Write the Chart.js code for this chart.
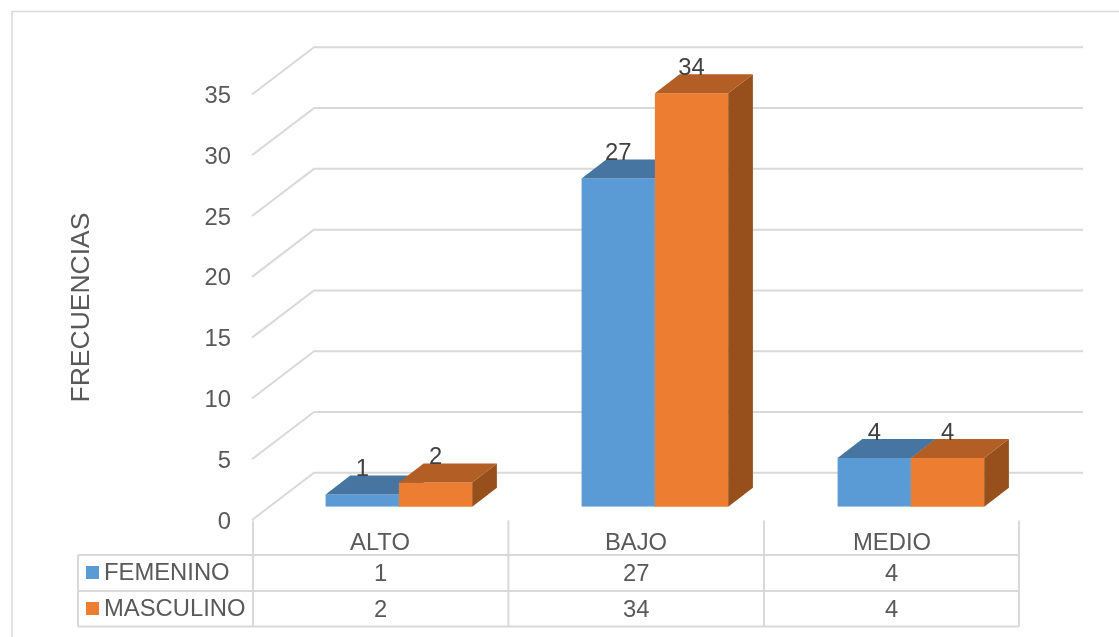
<!DOCTYPE html>
<html>
<head>
<meta charset="utf-8">
<title>Frecuencias</title>
<script src="https://cdn.jsdelivr.net/npm/chart.js@4"></script>
<style>
  html, body { margin: 0; padding: 0; background: #fff; }
  canvas { display: block; }
</style>
</head>
<body>
<canvas id="reportCanvas" width="1119" height="637"></canvas>
<script>
const categories = ['ALTO', 'BAJO', 'MEDIO'];
const femenino = [1, 27, 4];
const masculino = [2, 34, 4];
const seriesNames = ['FEMENINO', 'MASCULINO'];

const fontFamily = '"Liberation Sans", Arial, sans-serif';
const fontSize = 23.8;
const titleSize = 26.5;
const textColor = '#595959';
const labelColor = '#404040';
const lineColor = '#d9d9d9';
const shades = [
  { front: '#5b9bd5', top: '#4675a1', side: '#3b648a' },
  { front: '#ed7d31', top: '#b25e25', side: '#974f1c' }
];

// plot box the library lays the bars in
const plotLeft = 270.9;
const plotRight = 1038.9;
const plotTop = 81.2;
const plotBottom = 506.7;

// 3d offsets: wall plane relative to the bars, and the depth of a bar
const wallShiftX = 18.9;
const wallShiftY = 13.3;
const wallDepthX = 62;
const wallDepthY = 47.2;
const wallRight = 1083;
const barDepthX = 24.7;
const barDepthY = 19;

// data table under the chart
const tableRows = [555, 591, 626.5];
const tableLeft = 78;
const tableColumns = [253, 508.4, 764, 1019];

function face(ctx, points, color) {
  ctx.fillStyle = color;
  ctx.beginPath();
  points.forEach((p, i) => (i ? ctx.lineTo(p[0], p[1]) : ctx.moveTo(p[0], p[1])));
  ctx.closePath();
  ctx.fill();
}

function stroke(ctx, points, width) {
  ctx.strokeStyle = lineColor;
  ctx.lineWidth = width;
  ctx.lineJoin = 'round';
  ctx.beginPath();
  points.forEach((p, i) => (i ? ctx.lineTo(p[0], p[1]) : ctx.moveTo(p[0], p[1])));
  ctx.stroke();
}

const wallPlugin = {
  id: 'wall',
  beforeDatasetsDraw(chart) {
    const ctx = chart.ctx;
    const yScale = chart.scales.y;
    const frontX = plotLeft - wallShiftX;

    ctx.save();
    // outer frame, open on the right and at the bottom
    stroke(ctx, [[12, 637], [12, 11.5], [1119, 11.5]], 1.5);

    yScale.ticks.forEach((tick) => {
      const y = yScale.getPixelForValue(tick.value) + wallShiftY;
      stroke(ctx, [[frontX, y], [frontX + wallDepthX, y - wallDepthY], [wallRight, y - wallDepthY]], 2);
    });

    tableRows.forEach((y) => stroke(ctx, [[tableLeft, y], [tableColumns[3], y]], 2));
    stroke(ctx, [[tableLeft, tableRows[0]], [tableLeft, tableRows[2]]], 2);
    tableColumns.forEach((x) => stroke(ctx, [[x, 520.5], [x, tableRows[2]]], 2));

    // axis title
    ctx.fillStyle = textColor;
    ctx.font = titleSize + 'px ' + fontFamily;
    ctx.textAlign = 'center';
    ctx.textBaseline = 'middle';
    ctx.translate(81.5, 307.5);
    ctx.rotate(-Math.PI / 2);
    ctx.fillText('FRECUENCIAS', 0, 0);
    ctx.restore();
  }
};

function drawDepth(chart, index) {
  const ctx = chart.ctx;
  const shade = shades[index];

  chart.getDatasetMeta(index).data.forEach((bar) => {
    const left = bar.x - bar.width / 2;
    const right = bar.x + bar.width / 2;
    const top = bar.y;
    const base = bar.base;

    face(ctx, [[right, top], [right + barDepthX, top - barDepthY], [right + barDepthX, base - barDepthY], [right, base]], shade.side);
    face(ctx, [[left, top], [left + barDepthX, top - barDepthY], [right + barDepthX, top - barDepthY], [right, top]], shade.top);
  });
}

// the library paints the first series last; the second one has to sit in
// front here, so it is held back and painted after the first
const depthPlugin = {
  id: 'depth',
  beforeDatasetDraw(chart, args) {
    if (args.index === 1) return false;
  },
  afterDatasetDraw(chart) {
    drawDepth(chart, 0);
    chart.getDatasetMeta(1).controller.draw();
    drawDepth(chart, 1);
  }
};

const tablePlugin = {
  id: 'valueTable',
  afterDatasetsDraw(chart) {
    const ctx = chart.ctx;

    ctx.save();
    ctx.font = fontSize + 'px ' + fontFamily;
    ctx.textBaseline = 'middle';

    // value labels over the bars
    ctx.textAlign = 'center';
    ctx.fillStyle = labelColor;
    chart.data.datasets.forEach((dataset, index) => {
      chart.getDatasetMeta(index).data.forEach((bar, i) => {
        ctx.fillText(dataset.data[i], bar.x, bar.y - 25);
      });
    });

    // table rows with legend keys
    chart.data.datasets.forEach((dataset, index) => {
      const rowTop = tableRows[index];
      ctx.fillStyle = shades[index].front;
      ctx.fillRect(86, rowTop + 11, 13, 13);

      ctx.fillStyle = textColor;
      ctx.textAlign = 'left';
      ctx.fillText(seriesNames[index], 104, rowTop + 18);

      ctx.textAlign = 'center';
      dataset.data.forEach((value, i) => {
        ctx.fillText(value, (tableColumns[i] + tableColumns[i + 1]) / 2, rowTop + 19);
      });
    });
    ctx.restore();
  }
};

new Chart(document.getElementById('reportCanvas').getContext('2d'), {
  type: 'bar',
  data: {
    labels: categories,
    datasets: [
      { label: seriesNames[0], data: femenino, backgroundColor: shades[0].front },
      { label: seriesNames[1], data: masculino, backgroundColor: shades[1].front }
    ]
  },
  plugins: [wallPlugin, depthPlugin, tablePlugin],
  options: {
    responsive: false,
    animation: false,
    events: [],
    categoryPercentage: 0.5727,
    barPercentage: 1,
    layout: {
      padding: { left: 0, top: plotTop, right: 1119 - plotRight, bottom: 0 }
    },
    plugins: {
      legend: { display: false },
      tooltip: { enabled: false },
      title: { display: false }
    },
    scales: {
      x: {
        grid: { display: false, drawTicks: false },
        border: { display: false },
        ticks: {
          color: textColor,
          font: { family: fontFamily, size: fontSize },
          padding: 22,
          labelOffset: -wallShiftX,
          maxRotation: 0
        },
        afterFit(scale) {
          scale.height = 637 - plotBottom;
        }
      },
      y: {
        min: 0,
        max: 35,
        grid: { display: false, drawTicks: false },
        border: { display: false },
        ticks: {
          stepSize: 5,
          color: textColor,
          font: { family: fontFamily, size: fontSize },
          padding: 39.9,
          labelOffset: wallShiftY + 2
        },
        afterFit(scale) {
          scale.width = plotLeft;
        }
      }
    }
  }
});
</script>
</body>
</html>
